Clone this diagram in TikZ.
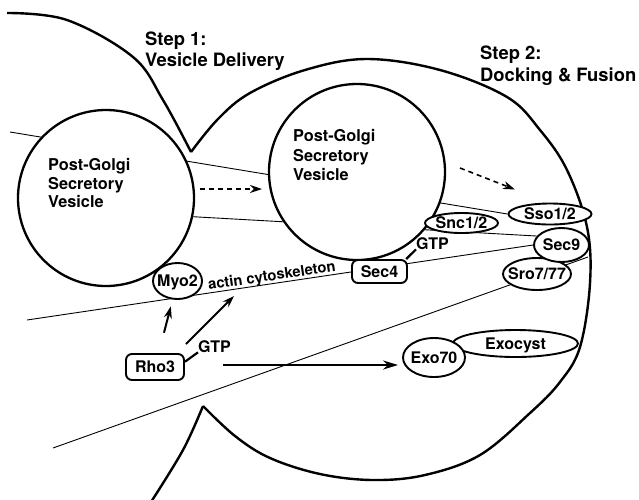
\documentclass[tikz,border=0pt]{standalone}
\usepackage{fontspec}
\setmainfont{TeX Gyre Heros}
\usetikzlibrary{shapes.geometric,arrows.meta,backgrounds}
\begin{document}
\begin{tikzpicture}[x=1pt,y=-1pt,
  cell/.style={line width=2.4pt, line join=round},
  vesicle/.style={line width=2.3pt, fill=white},
  thinline/.style={line width=0.9pt},
  lbl/.style={font=\fontsize{16}{18}\selectfont\bfseries, inner sep=0pt, text height=11.3pt, text depth=0pt},
  oval/.style={lbl, ellipse, draw, line width=1.9pt, fill=white},
  rbox/.style={lbl, rectangle, rounded corners=6pt, draw, line width=1.9pt, fill=white},
  title/.style={font=\fontsize{18.4}{22}\selectfont\bfseries, inner sep=0pt, anchor=base west},
  vtext/.style={font=\fontsize{16.3}{19}\selectfont\bfseries, inner sep=0pt, anchor=base west},
  arr/.style={line width=2pt, -{Stealth[length=12pt,width=8pt]}},
  harr/.style={line width=2.3pt, -{Stealth[length=15pt,width=9pt]}},
  darr/.style={line width=1.6pt, dash pattern=on 5pt off 4pt, -{Stealth[length=12pt,width=8pt]}},
  link/.style={line width=2.2pt}
]
\useasboundingbox (0,0) rectangle (639,499);

% cell outlines
\draw[cell] plot[smooth, tension=0.6] coordinates {(7,13) (67,20) (133,57) (163,100) (191,152)};
\draw[cell] plot[smooth, tension=0.6] coordinates {(203,406) (183,450) (151,502)};
\draw[cell] plot[smooth, tension=0.6] coordinates {(191,152) (218,119) (250,93) (305,70) (367,59) (440,70) (507,97) (540,130) (567,170) (587,227) (590,283) (580,347) (560,382) (530,413) (480,455) (425,475) (373,480) (320,474) (270,458) (235,436) (203,406)};

% vesicles
\node[vesicle, circle, draw, minimum size=176pt, inner sep=0pt] (ves1) at (106,198) {};
\node[vesicle, circle, draw, minimum size=176pt, inner sep=0pt] (ves2) at (357,172) {};

\node[vtext] (v1a) at (48,170) {Post-Golgi};
\node[vtext] (v1b) at (48,189) {Secretory};
\node[vtext] (v1c) at (48,207.5) {Vesicle};
\node[vtext] (v2a) at (293,141.7) {Post-Golgi};
\node[vtext] (v2b) at (293,161) {Secretory};
\node[vtext] (v2c) at (293,180) {Vesicle};

% titles
\node[title] (s1a) at (145,45) {Step 1:};
\node[title] (s1b) at (145,66.7) {Vesicle Delivery};
\node[title] (s2a) at (480,59.3) {Step 2:};
\node[title] (s2b) at (480,81.7) {Docking \& Fusion};

% protein nodes
\node[oval, minimum width=125pt, minimum height=27pt] (exocyst) at (515.5,343.5) {\makebox[0pt]{Exocyst}};
\node[oval, minimum width=62pt, minimum height=39pt] (exo) at (434,357.5) {\makebox[0pt]{Exo70}};
\node[oval, minimum width=68pt, minimum height=32pt] (sro) at (537,274) {\makebox[0pt]{Sro7/77}};
\node[oval, minimum width=55pt, minimum height=34pt] (sec9) at (561.5,245) {\makebox[0pt]{Sec9}};
\node[oval, minimum width=83pt, minimum height=21pt] (sso) at (550,214) {\makebox[0pt]{Sso1/2}};
\node[oval, minimum width=73pt, minimum height=20pt] (snc) at (461.5,223) {\makebox[0pt]{Snc1/2}};
\node[oval, minimum width=49pt, minimum height=36pt] (myo) at (177.5,281) {\makebox[0pt]{Myo2}};
\node[rbox, minimum width=58pt, minimum height=26pt] (rho) at (155,367) {\makebox[0pt]{Rho3}};
\node[rbox, minimum width=55pt, minimum height=23pt] (sec4) at (379.5,271.5) {\makebox[0pt]{Sec4}};
\node[lbl] (gtp1) at (214.5,346.5) {GTP};
\node[lbl] (gtp2) at (432.5,243.5) {GTP};
\node[font=\fontsize{14.8}{17}\selectfont\bfseries, inner sep=0pt, anchor=base, rotate=8.3] (actin) at (272.5,280.5) {actin cytoskeleton};

% thin filaments / lines behind
\begin{pgfonlayer}{background}
\fill[white] (0,0) rectangle (639,499);
\coordinate (u0) at (10,132);
\coordinate (m0) at (120,212.6);
\coordinate (a0) at (27,320);
\coordinate (b0) at (53,448);
\coordinate (b1) at (588,257);
\draw[thinline] (u0) -- (sso.west);
\draw[thinline] (m0) -- (sec9.160);
\draw[thinline] (a0) -- (sec9.west);
\draw[thinline] (b0) -- (b1);
\end{pgfonlayer}

% connectors
\draw[link] (rho.10) -- (gtp1.south west);
\draw[link] (sec4.25) -- (gtp2.south west);
\draw[arr, shorten <=21pt, shorten >=7pt] (rho) -- (myo);
\coordinate (r1) at (186,344);
\coordinate (r2) at (234,296);
\draw[arr] (r1) -- (r2);
\coordinate (h0) at (223,365);
\draw[harr, shorten >=4pt] (h0) -- (h0 -| exo.west);
\coordinate (d1a) at (200,189);
\coordinate (d1b) at (262,189);
\draw[darr] (d1a) -- (d1b);
\coordinate (d2a) at (460,168);
\coordinate (d2b) at (515,189.5);
\draw[darr] (d2a) -- (d2b);
\end{tikzpicture}
\end{document}
